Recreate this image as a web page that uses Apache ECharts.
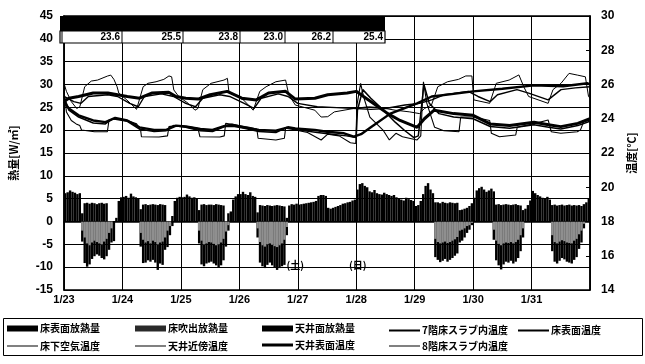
<!DOCTYPE html>
<html>
<head>
<meta charset="utf-8">
<script src="https://cdn.jsdelivr.net/npm/echarts@6/dist/echarts.min.js"></script>
<style>
  html, body { margin: 0; padding: 0; background: #fff; }
  #chart { width: 645px; height: 364px; }
</style>
</head>
<body>
<div id="chart"></div>
<script>
// Day labels for the hourly time axis (hour 0 = 1/23 0:00)
const dayLabels = ['1/23', '1/24', '1/25', '1/26', '1/27', '1/28', '1/29', '1/30', '1/31'];

// Hourly heat flux [W/m2], 24 values per day
const ceilingHeat = [
  6.2,6.4,6.8,6.5,6.3,6.0,6.2,1.8, 4.0,4.1,3.9,4.1,4.0,3.8,4.0,4.1,3.9,4.0, 0,0,0,0.8,4.5,5.3,
  5.4,5.6,5.2,6.1,5.5,5.3,5.0,2.7, 3.7,3.8,3.6,3.7,3.8,3.7,3.6,3.8,3.7,3.6, 0,0,1.2,4.5,5.2,5.4,
  5.3,5.4,5.9,5.5,5.2,5.3,5.0,2.5, 3.7,3.8,3.6,3.7,3.7,3.6,3.8,3.7,3.6,3.5, 0,1.8,2.2,4.8,5.5,6.0,
  6.0,6.5,6.0,5.8,6.4,5.6,5.4,2.0, 3.6,3.5,3.4,3.6,3.5,3.4,3.5,3.6,3.5,3.4, 3.3,0.8,3.5,3.8,3.7,3.9,
  3.7,3.8,3.9,4.0,4.1,4.2,4.3,4.5, 5.6,5.8,5.8,5.6,3.0,2.8,3.0,3.2, 3.4,3.6,3.9,4.0,4.2,4.3,4.6,4.8,
  7.0,8.2,8.4,7.8,7.5,6.6, 6.4,6.9,6.2,6.0,5.9,6.3, 6.0,5.8,5.6,5.8,5.3,5.0, 4.8,4.6,5.2,4.9,4.7,4.5,
  3.4,3.6,4.5,6.0,7.8,8.4,7.0,6.2, 4.2,4.2,4.0,4.3,4.1,4.0,4.2,4.1,4.0,4.1, 2.5,2.6,2.8,3.0,3.4,4.0,
  5.2,6.8,7.3,7.6,7.0,6.5,6.8,7.2, 6.6,3.7,3.8,3.6,3.7,3.8,3.7,3.6,3.7,3.8, 3.6,3.5,2.5,2.8,3.6,4.6,
  6.7,6.2,5.8,5.5,5.2,5.0,5.4,4.8, 3.6,3.7,3.5,3.6,3.7,3.5,3.6,3.7,3.5,3.6, 3.5,3.6,3.4,3.8,4.2,5.0
];
const floorHeat = [
  0,0,0,0,0,0,0,-4.4, -9.1,-9.9,-9.4,-8.2,-7.6,-7.2,-7.5,-8.0,-8.3,-7.6, -6.2,-4.6,-4.3,0,0,0,
  0,0,0,0,0,0,0,-5.5, -9.1,-9.0,-8.5,-8.8,-8.4,-9.0,-10.6,-9.2,-9.5,-6.2, -5.6,-3.0,-1.0,0,0,0,
  0,0,0,0,0,0,0,-4.8, -9.4,-9.8,-9.2,-9.0,-8.8,-9.2,-9.6,-10.0,-9.6,-8.5, -5.5,-2.0,0,0,0,0,
  0,0,0,0,0,0,0,-3.5, -9.0,-9.8,-10.2,-9.5,-9.0,-9.6,-10.0,-10.6,-10.2,-9.8, -9.5,-3.0,0,0,0,0,
  0,0,0,0,0,0,0,0, 0,0,0,0,0,0,0,0,0,0, 0,0,0,0,0,0,
  0,0,0,0,0,0,0,0, 0,0,0,0,0,0,0,0,0,0, 0,0,0,0,0,0,
  0,0,0,0,0,0,0,0, -7.8,-8.4,-8.9,-8.6,-8.2,-8.8,-8.4,-8.0,-7.5,-7.0, -4.6,-4.2,-3.5,-2.5,-1.8,-0.8,
  0,0,0,0,0,0,0,0, -4.0,-8.5,-9.6,-10.5,-9.4,-8.8,-9.0,-8.6,-9.2,-8.8, -8.0,-6.5,-3.5,0,0,0,
  0,0,0,0,0,0,0,0, -6.5,-8.8,-9.2,-8.6,-8.0,-8.3,-8.8,-9.0,-9.2,-8.4, -7.8,-6.0,-4.6,-1.5,0,0
];
const supplyHeat = [
  0,0,0,0,0,0,0,-2.0, -3.5,-4.8,-5.2,-4.6,-4.2,-4.5,-4.8,-5.0,-4.4,-3.8, -2.5,-1.5,0,0,0,0,
  0,0,0,0,0,0,0,-2.5, -4.0,-4.6,-4.3,-4.8,-4.2,-4.5,-5.0,-4.6,-4.4,-3.5, -2.0,-1.0,0,0,0,0,
  0,0,0,0,0,0,0,-2.0, -4.2,-5.0,-4.8,-4.5,-4.6,-4.9,-5.2,-5.0,-4.6,-3.8, -2.2,-0.8,0,0,0,0,
  0,0,0,0,0,0,0,-1.5, -4.5,-5.2,-5.5,-5.0,-4.8,-5.1,-5.4,-5.6,-5.2,-4.8, -4.0,-1.2,0,0,0,0,
  0,0,0,0,0,0,0,0, 0,0,0,0,0,0,0,0,0,0, 0,0,0,0,0,0,
  0,0,0,0,0,0,0,0, 0,0,0,0,0,0,0,0,0,0, 0,0,0,0,0,0,
  0,0,0,0,0,0,0,0, -3.8,-4.5,-4.8,-4.6,-4.4,-4.7,-4.5,-4.2,-3.9,-3.4, -2.0,-1.8,-1.5,-1.0,-0.8,-0.3,
  0,0,0,0,0,0,0,0, -1.8,-4.2,-4.9,-5.2,-4.8,-4.6,-4.7,-4.5,-4.8,-4.5, -4.0,-3.0,-1.5,0,0,0,
  0,0,0,0,0,0,0,0, -3.0,-4.5,-4.8,-4.4,-4.1,-4.3,-4.6,-4.7,-4.8,-4.2, -3.8,-2.8,-2.0,-0.5,0,0
];

// Temperatures [degC] as [hour, value]
const slab7F = [[0,25.0],[2,24.6],[6,24.2],[12,23.9],[17,23.8],[21,24.05],[26,23.9],[31,23.5],[37,23.35],[42,23.35],[46,23.6],[50,23.55],[56,23.4],[61,23.35],[66,23.58],[69,23.65],[74,23.5],[80,23.34],[87,23.3],[92,23.5],[95,23.44],[103,23.34],[108,23.24],[115,23.15],[119,22.95],[122,23.1],[126,23.5],[134,24.3],[145,24.9],[151,25.3],[160,25.45],[168,25.6],[180,25.75],[193,25.95],[205,25.9],[215,26.07],[216,26.0]];
const floorSurface = [[0,25.3],[2,24.5],[6,24.1],[12,23.75],[17,23.7],[20,24.0],[26,23.85],[31,23.4],[37,23.25],[42,23.3],[45,23.6],[50,23.5],[56,23.3],[61,23.25],[66,23.55],[70,23.55],[74,23.45],[80,23.25],[87,23.2],[91.5,23.5],[96,23.35],[104,23.2],[110,23.1],[116,23.0],[120,22.9],[120.5,24.5],[122.7,25.7],[126,25.2],[130.5,24.6],[136,23.8],[140,23.3],[143.7,22.9],[145.5,23.0],[147.8,26.0],[150,24.9],[154,24.3],[160,24.1],[168,24.0],[175,23.55],[183,23.45],[193,23.65],[199,23.5],[204,23.4],[211,23.6],[216,23.85]];
const underfloorAir = [[0,25.6],[1,24.4],[3,23.9],[5,23.7],[6.5,23.6],[7.2,23.34],[12.5,23.24],[17.8,23.24],[18.5,23.93],[22,24.0],[26,23.9],[29.8,23.7],[31.5,23.3],[31.8,22.95],[39,22.93],[42.5,23.0],[43.1,23.54],[46,23.6],[51,23.55],[55,23.45],[55.8,22.95],[64,22.93],[65.8,23.0],[66.4,23.73],[70,23.65],[76,23.5],[79.2,23.4],[79.7,22.86],[87,22.76],[90.5,22.86],[91,23.45],[95,23.35],[100,23.2],[105.6,22.76],[108.3,23.1],[113,23.0],[117.6,22.6],[119.8,22.55],[120.3,24.8],[121.8,26.07],[123,25.3],[125.6,24.1],[131,23.34],[133.6,22.76],[136.3,23.15],[139,22.95],[145,22.76],[146.5,23.0],[147.6,26.16],[149,24.9],[152.2,23.5],[156,23.3],[162.2,23.24],[162.9,24.1],[168.2,24.1],[174.8,23.9],[175.5,23.15],[178.8,22.95],[185.5,23.05],[186.1,23.5],[192.8,23.7],[198.8,23.93],[200.1,23.24],[204,23.15],[210.8,23.24],[212.1,23.35],[213.4,23.83],[216,23.93]];
const nearCeilingAir = [[0,26.07],[1,25.6],[3,25.0],[5.2,24.6],[6.5,24.7],[8.5,25.87],[11.2,26.2],[13.8,26.26],[17.8,26.49],[19.2,26.55],[20.5,26.3],[21.8,25.87],[22.5,25.5],[25.8,25.1],[29.8,24.55],[30.5,24.5],[32.5,25.87],[34.5,26.07],[37.8,26.16],[41,26.3],[43.1,26.5],[44.2,26.45],[45.1,25.68],[47.1,25.3],[51,24.9],[53.8,24.5],[55,24.6],[57,25.7],[60.4,26.07],[65.7,26.26],[67.1,26.36],[67.7,25.6],[73.7,25.1],[77.7,24.5],[78.5,24.55],[80.4,25.6],[83,25.87],[87,26.16],[91,26.26],[92.3,25.4],[95,24.8],[103,24.5],[105.6,24.1],[108.3,24.12],[111,24.4],[119,24.6],[125,24.7],[130,24.65],[136,24.5],[142,24.4],[146,24.3],[148,24.6],[150.9,24.8],[153.5,25.87],[157.5,26.16],[162,26.3],[165,26.5],[167.5,26.5],[168.3,25.1],[174.8,24.9],[177.5,26.07],[182.8,26.26],[186.8,26.56],[188.8,25.87],[190.8,25.3],[198.8,24.9],[200.8,25.7],[204.1,26.07],[207.4,26.65],[210.8,26.55],[214.1,26.45],[215.4,25.3],[216,25.2]];
const ceilingSurface = [[0,25.0],[2,25.2],[6,25.3],[12,25.5],[18,25.5],[22,25.4],[26,25.3],[31,25.2],[36,25.5],[43,25.55],[46,25.3],[50,25.2],[55,25.15],[60,25.4],[67,25.6],[73,25.2],[79,25.1],[84,25.5],[91,25.6],[95,25.15],[103,25.2],[108.3,25.4],[116.3,25.5],[120,25.6],[123,25.3],[128,24.8],[133,24.3],[138,23.9],[145,23.5],[148,24.0],[152,24.5],[160,24.3],[168,24.2],[175,23.7],[183,23.6],[193,23.8],[199,23.65],[204,23.54],[211,23.73],[216,24.0]];
const slab8F = [[0,25.3],[4,25.0],[7,24.9],[10,25.3],[18,25.4],[22,25.3],[27,24.9],[30.5,24.7],[33,25.3],[40,25.45],[45,25.3],[50,24.9],[54,24.7],[57,25.2],[64,25.4],[68,25.3],[74,24.9],[78,24.6],[81,25.2],[88,25.45],[92,25.3],[96,24.9],[104,24.7],[112,24.65],[120,24.6],[126,24.55],[132,24.6],[140,24.8],[146,24.9],[151,25.1],[156,25.4],[166,25.6],[170,25.3],[175,25.0],[178,25.4],[186,25.7],[190.8,25.5],[198.8,25.1],[204.1,25.7],[210,25.8],[216,25.87]];

// Summary row above the plot
const tableValues = ['23.6', '25.5', '23.8', '23.0', '26.2', '25.4'];
// Weekend notes
const noteTexts = ['(土)', '(日)'];

const JP = '"Noto Sans CJK JP", "Noto Sans", sans-serif';
const NUM = '"Liberation Sans", "DejaVu Sans", sans-serif';

const hourly = arr => arr.map((v, i) => [i + 0.5, v]);

function barSeries(name, data, color) {
  return {
    name, type: 'bar', data: hourly(data), barWidth: 2.4, barGap: '-100%',
    itemStyle: { color }, emphasis: { disabled: true }, silent: true
  };
}
function lineSeries(name, data, width) {
  return {
    name, type: 'line', yAxisIndex: 1, data, symbol: 'none', smooth: false,
    lineStyle: { color: '#000', width }, itemStyle: { color: '#000' },
    emphasis: { disabled: true }, silent: true, z: 3
  };
}

const lineWidths = {
  '7階床スラブ内温度': 2.4, '床表面温度': 1.5, '床下空気温度': 1.1,
  '天井近傍温度': 1, '天井表面温度': 3, '8階床スラブ内温度': 1.4
};

const series = [
  barSeries('床表面放熱量', floorHeat, '#000'),
  barSeries('床吹出放熱量', supplyHeat, '#8f8f8f'),
  barSeries('天井面放熱量', ceilingHeat, '#000'),
  lineSeries('7階床スラブ内温度', slab7F, lineWidths['7階床スラブ内温度']),
  lineSeries('床表面温度', floorSurface, lineWidths['床表面温度']),
  lineSeries('床下空気温度', underfloorAir, lineWidths['床下空気温度']),
  lineSeries('天井近傍温度', nearCeilingAir, lineWidths['天井近傍温度']),
  lineSeries('天井表面温度', ceilingSurface, lineWidths['天井表面温度']),
  lineSeries('8階床スラブ内温度', slab8F, lineWidths['8階床スラブ内温度'])
];

// Legend laid out in two rows of fixed columns
const legendRows = [
  ['床表面放熱量', '床吹出放熱量', '天井面放熱量', '7階床スラブ内温度', '床表面温度'],
  ['床下空気温度', '天井近傍温度', '天井表面温度', '8階床スラブ内温度']
];
const colX = [7, 135, 262, 389, 518];
const rowY = [323, 338];
const legends = [];
legendRows.forEach((row, r) => row.forEach((name, c) => {
  const isLine = name in lineWidths;
  const h = isLine ? Math.max(1, Math.round(lineWidths[name])) : 6;
  legends.push({
    data: [{ name, icon: 'rect' }], left: colX[c], top: rowY[r] + (isLine ? (7 - h) / 2 : 0.5), padding: 0,
    itemWidth: 31, itemHeight: h, selectedMode: false,
    itemStyle: { color: name === '床吹出放熱量' ? '#2a2a2a' : '#000', borderWidth: 0 },
    textStyle: { fontFamily: JP, fontWeight: 'bold', fontSize: 10, color: '#000', padding: [0, 0, 0, -3] }
  });
}));

const option = {
  animation: false,
  backgroundColor: '#fff',
  grid: { left: 60, right: 44, top: 16, bottom: 74, show: true, borderColor: '#000', borderWidth: 1.5 },
  legend: legends,
  xAxis: {
    type: 'value', min: 0, max: 216, interval: 24,
    axisLine: { show: true, lineStyle: { color: '#000', width: 1.5 } },
    axisTick: { show: false },
    axisLabel: { formatter: v => dayLabels[v / 24] || '', color: '#000', fontFamily: NUM, fontWeight: 'bold', fontSize: 11, margin: 4 },
    splitLine: { show: true, lineStyle: { color: '#000', width: 1 } }
  },
  yAxis: [{
    type: 'value', min: -15, max: 45, interval: 5,
    name: '熱量[W/㎡]', nameLocation: 'middle', nameRotate: 90, nameGap: 45,
    nameTextStyle: { fontFamily: JP, fontWeight: 'bold', fontSize: 11, color: '#000' },
    axisLine: { show: true, lineStyle: { color: '#000', width: 1.5 } },
    axisTick: { show: false },
    axisLabel: { color: '#000', fontFamily: NUM, fontWeight: 'bold', fontSize: 12, margin: 11 },
    splitLine: { show: true, lineStyle: { color: '#000', width: 1 } }
  }, {
    type: 'value', min: 14, max: 30, interval: 2, position: 'right',
    name: '温度[℃]', nameLocation: 'middle', nameRotate: 90, nameGap: 36,
    nameTextStyle: { fontFamily: JP, fontWeight: 'bold', fontSize: 11, color: '#000' },
    axisLine: { show: true, lineStyle: { color: '#000', width: 1.5 } },
    axisTick: { show: true, inside: true, length: 4, lineStyle: { color: '#000' } },
    axisLabel: { color: '#000', fontFamily: NUM, fontWeight: 'bold', fontSize: 12, margin: 11 },
    splitLine: { show: false }
  }],
  series
};

const chart = echarts.init(document.getElementById('chart'));
chart.setOption(option);

// Summary table: black band and a row of cells with values
const tLeft = 60, tTop = 16, bandH = 15, rowH = 12;
const cellEdges = [62, 122, 183, 240, 285, 333, 385];
const tRight = cellEdges[cellEdges.length - 1];
const graphics = [
  { type: 'rect', shape: { x: tLeft, y: tTop, width: tRight - tLeft, height: bandH }, style: { fill: '#000' }, z: 10 },
  { type: 'rect', shape: { x: tLeft, y: tTop + bandH, width: tRight - tLeft, height: rowH }, style: { fill: '#fff', stroke: '#000', lineWidth: 1.2 }, z: 10 }
];
cellEdges.slice(0, -1).forEach(x => graphics.push({
  type: 'line', shape: { x1: x, y1: tTop + bandH, x2: x, y2: tTop + bandH + rowH }, style: { stroke: '#000', lineWidth: 1 }, z: 11
}));
tableValues.forEach((t, i) => graphics.push({
  type: 'text', z: 12,
  style: { text: t, x: cellEdges[i + 1] - 2, y: tTop + bandH + rowH / 2 + 0.5, align: 'right', verticalAlign: 'middle',
           font: 'bold 10px ' + NUM, fill: '#000' }
}));
const notePos = [[95, -9.6], [120.6, -9.6]];
noteTexts.forEach((t, i) => {
  const p = chart.convertToPixel({ xAxisIndex: 0, yAxisIndex: 0 }, notePos[i]);
  graphics.push({ type: 'text', z: 12, style: { text: t, x: p[0], y: p[1], align: 'center', verticalAlign: 'middle', font: 'bold 10px ' + JP, fill: '#000' } });
});
// Frame around the legend
graphics.push({ type: 'rect', shape: { x: 3.5, y: 318.5, width: 639, height: 37 }, style: { fill: 'none', stroke: '#000', lineWidth: 1 }, z: 0 });
chart.setOption({ graphic: graphics });
</script>
</body>
</html>
